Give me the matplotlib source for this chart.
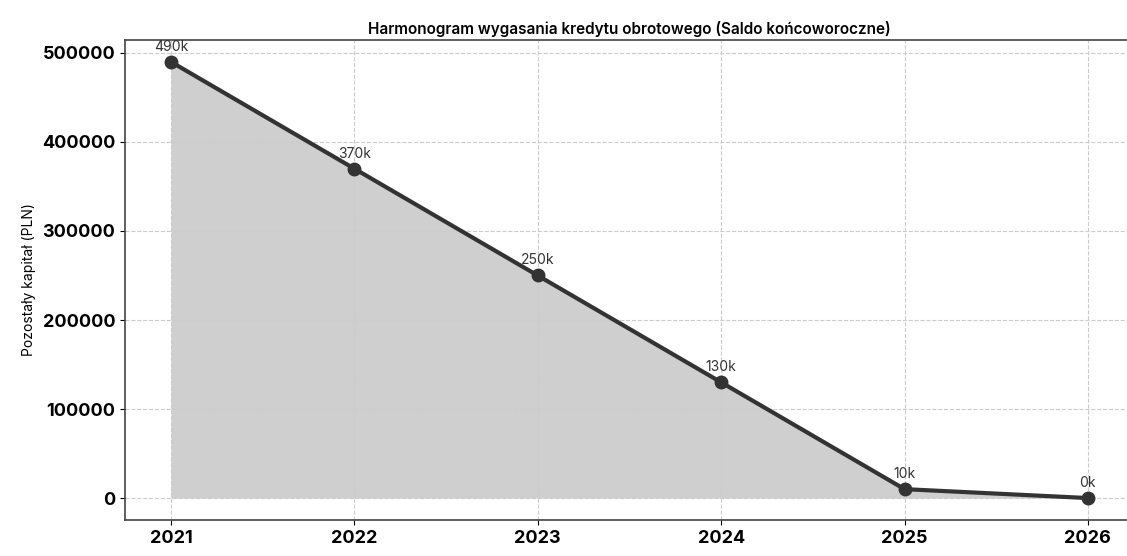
import matplotlib
matplotlib.use('Agg')
import matplotlib.pyplot as plt

years = [2021, 2022, 2023, 2024, 2025, 2026]
saldo = [490000, 370000, 250000, 130000, 10000, 0]
labels = ['490k', '370k', '250k', '130k', '10k', '0k']

plt.rcParams['font.family'] = ['Inter', 'DejaVu Sans']

fig = plt.figure(figsize=(11.27, 5.56), dpi=100)
ax = fig.add_axes([0.111, 0.065, 0.895, 0.863])

ax.fill_between(years, saldo, color='#b0b0b0', alpha=0.6, linewidth=0)
ax.plot(years, saldo, color='#333333', linewidth=3, marker='o', markersize=9)

for x, y, t in zip(years, saldo, labels):
    ax.annotate(t, (x, y), textcoords='offset points', xytext=(0, 8),
                ha='center', fontsize=10, color='#333333')

ax.set_title('Harmonogram wygasania kredytu obrotowego (Saldo końcoworoczne)',
             fontsize=11, fontweight='semibold', pad=4)
ax.set_ylabel('Pozostały kapitał (PLN)', fontsize=10)
ax.set_xticks(years)
ax.tick_params(axis='both', labelsize=13)
for lbl in ax.get_xticklabels() + ax.get_yticklabels():
    lbl.set_fontweight('bold')
ax.grid(True, linestyle='--', color='#cccccc', linewidth=0.8)
for s in ax.spines.values():
    s.set_color('#444444')
    s.set_linewidth(1.2)

fig.savefig('out.png', dpi=100)
